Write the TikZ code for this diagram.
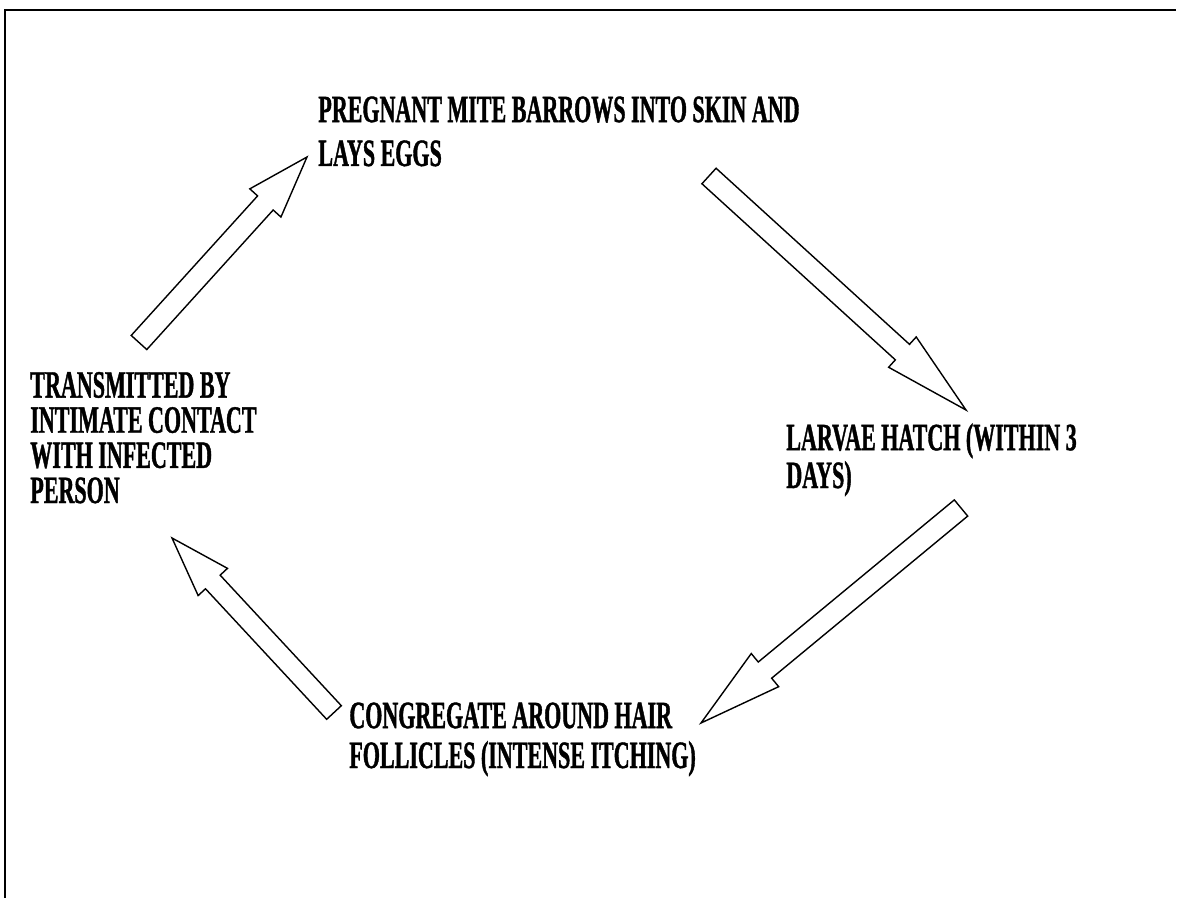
\documentclass[tikz,border=0pt]{standalone}
\usepackage{fontspec}
\usetikzlibrary{calc}
\newfontfamily\labelfont{Liberation Serif Bold}[FakeStretch=0.57, FakeBold=1]

% outlined block arrow from tail centre #1 to tip #2;
% #3 half shaft width, #4 half head width, #5 head length (all in px units)
\newcommand\blockarrow[5]{%
  \coordinate (hb) at ($(#2)!#5*0.02cm!(#1)$);
  \draw[blockarrowline]
    ($(#1)!#3*0.02cm!90:(#2)$) -- ($(hb)!#3*0.02cm!90:(#2)$) --
    ($(hb)!#4*0.02cm!90:(#2)$) -- (#2) --
    ($(hb)!#4*0.02cm!-90:(#2)$) -- ($(hb)!#3*0.02cm!-90:(#2)$) --
    ($(#1)!#3*0.02cm!-90:(#2)$) -- cycle;
}

\begin{document}
\begin{tikzpicture}[x=0.02cm, y=-0.02cm,
  lbl/.style={inner sep=0pt, align=left, anchor=base west,
    font=\labelfont\fontsize{22}{#1}\selectfont},
  blockarrowline/.style={draw=black, fill=white, line width=0.8pt, line join=miter},
  frameline/.style={line width=1.7pt}]
  \useasboundingbox (0,0) rectangle (1187,898);

  % frame (top and left edges)
  \coordinate (fbl) at (5,898);
  \coordinate (ftl) at (5,10);
  \coordinate (ftr) at (1176,10);
  \draw[frameline] (fbl) -- (ftl) -- (ftr);

  % stages of the cycle (anchored at the baseline of the last line)
  \node[lbl=25pt] (eggs) at (318,166)
    {PREGNANT MITE BARROWS INTO SKIN AND\\LAYS EGGS};
  \node[lbl=21.5pt] (larvae) at (786,488)
    {LARVAE HATCH (WITHIN 3\\DAYS)};
  \node[lbl=22.7pt] (follicles) at (349,768)
    {CONGREGATE AROUND HAIR\\FOLLICLES (INTENSE ITCHING)};
  \node[lbl=20pt] (contact) at (30,503)
    {TRANSMITTED BY\\INTIMATE CONTACT\\WITH INFECTED\\PERSON};

  % arrow end points
  \coordinate (aTail) at (139,342.5);  \coordinate (aTip) at (307,157);
  \coordinate (bTail) at (709,176);    \coordinate (bTip) at (966,410);
  \coordinate (cTail) at (961,508);    \coordinate (cTip) at (701,723);
  \coordinate (dTail) at (334,712.5);  \coordinate (dTip) at (172,538);

  \blockarrow{aTail}{aTip}{10.5}{21}{62}
  \blockarrow{bTail}{bTip}{10.5}{20.5}{86}
  \blockarrow{cTail}{cTip}{10.5}{21.5}{83}
  \blockarrow{dTail}{dTip}{10}{20}{60}
\end{tikzpicture}
\end{document}
